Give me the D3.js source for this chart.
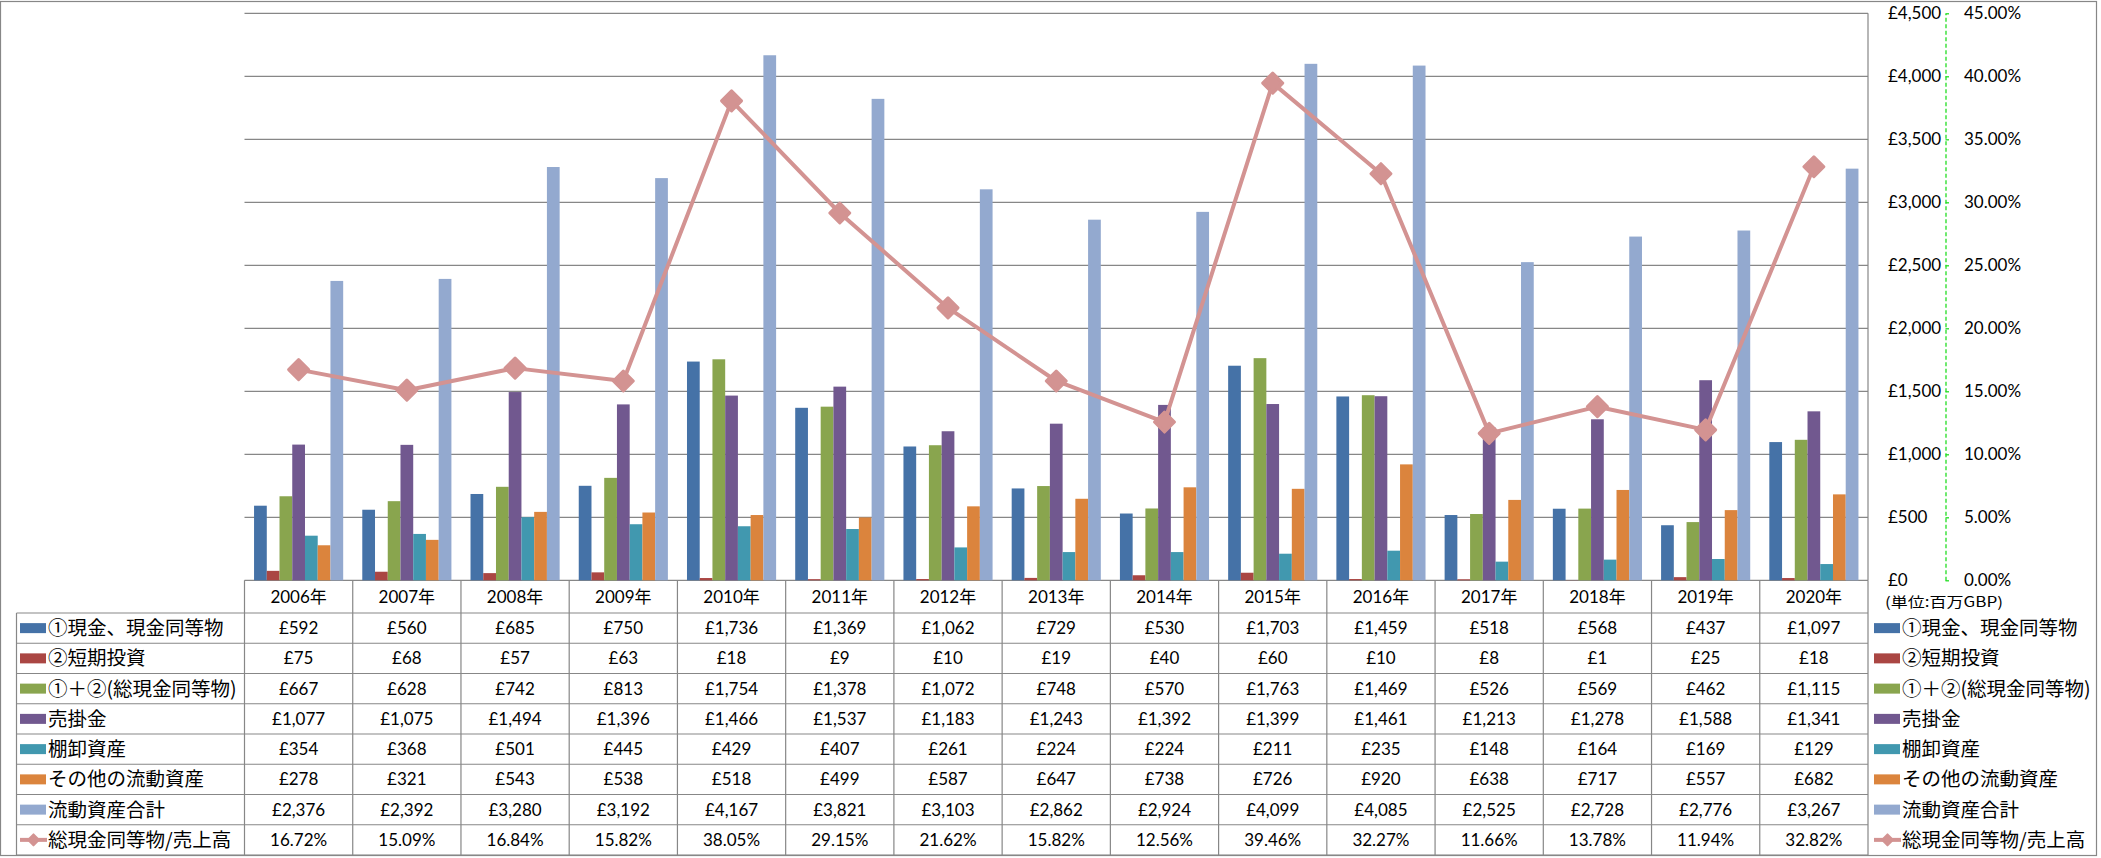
<!DOCTYPE html>
<html><head><meta charset="utf-8">
<script src="https://cdn.jsdelivr.net/npm/d3@7"></script>
<style>body{margin:0;background:#fff}svg{display:block}</style>
</head><body>
<svg id="chart" width="2101" height="858"></svg>
<script>
// ---- data ----
const years = ["2006年","2007年","2008年","2009年","2010年","2011年","2012年","2013年","2014年","2015年","2016年","2017年","2018年","2019年","2020年"];
const seriesNames = ["①現金、現金同等物","②短期投資","①＋②(総現金同等物)","売掛金","棚卸資産","その他の流動資産","流動資産合計"];
const lineName = "総現金同等物/売上高";
const cash        = [592,560,685,750,1736,1369,1062,729,530,1703,1459,518,568,437,1097];
const shortInv    = [75,68,57,63,18,9,10,19,40,60,10,8,1,25,18];
const totalCash   = [667,628,742,813,1754,1378,1072,748,570,1763,1469,526,569,462,1115];
const receivables = [1077,1075,1494,1396,1466,1537,1183,1243,1392,1399,1461,1213,1278,1588,1341];
const inventory   = [354,368,501,445,429,407,261,224,224,211,235,148,164,169,129];
const otherAssets = [278,321,543,538,518,499,587,647,738,726,920,638,717,557,682];
const currentTotal= [2376,2392,3280,3192,4167,3821,3103,2862,2924,4099,4085,2525,2728,2776,3267];
const cashRatio   = [16.72,15.09,16.84,15.82,38.05,29.15,21.62,15.82,12.56,39.46,32.27,11.66,13.78,11.94,32.82];
const valueTicks  = [0,500,1000,1500,2000,2500,3000,3500,4000,4500];
const pctTicks    = [0,5,10,15,20,25,30,35,40,45];
const unitLabel   = "(単位:百万GBP)";

const barSeries = [cash, shortInv, totalCash, receivables, inventory, otherAssets, currentTotal];
const colors = ["#4572A7","#AA4643","#89A54E","#71588F","#4198AF","#DB843D","#93A9CF"];
const lineColor = "#D39392";
const gridColor = "#878787";
const axisGreen = "#22DD22";
const numFont = "Lato, 'Noto Sans CJK JP', sans-serif";
const cjkFont = "'Noto Sans CJK JP', sans-serif";

const svg = d3.select("#chart");
const plot = {left:244.5, right:1868, top:13.3, bottom:580.3};

const x0 = d3.scaleBand().domain(years).range([plot.left, plot.right]).padding(0);
const x1 = d3.scaleBand().domain(d3.range(barSeries.length)).range([0, x0.bandwidth()]).paddingInner(0).paddingOuter(0.75);
const y  = d3.scaleLinear().domain([0,4500]).range([plot.bottom, plot.top]);
const yP = d3.scaleLinear().domain([0,45]).range([plot.bottom, plot.top]);
const rowsAll = seriesNames.concat([lineName]);
const rowY = d3.scaleBand().domain(d3.range(rowsAll.length)).range([613, 855]);
const fmtV = v => "£" + d3.format(",")(v);
const fmtP = v => v.toFixed(2) + "%";

// outer border
svg.append("rect").attr("x",0.5).attr("y",1.5).attr("width",2096).attr("height",854)
  .attr("fill","none").attr("stroke",gridColor).attr("stroke-width",1.2);

// gridlines
svg.append("g").selectAll("line").data(valueTicks).join("line")
  .attr("x1",plot.left).attr("x2",plot.right)
  .attr("y1",d=>y(d)).attr("y2",d=>y(d))
  .attr("stroke",gridColor).attr("stroke-width",1.2);
// plot right border
svg.append("line").attr("x1",plot.right).attr("x2",plot.right).attr("y1",plot.top).attr("y2",plot.bottom)
  .attr("stroke",gridColor).attr("stroke-width",1.2);

// bars
const gBars = svg.append("g");
barSeries.forEach((vals,si)=>{
  gBars.append("g").selectAll("rect").data(vals).join("rect")
    .attr("x",(d,i)=>x0(years[i]) + x1(si))
    .attr("width",x1.bandwidth())
    .attr("y",d=>y(d))
    .attr("height",d=>y(0)-y(d))
    .attr("fill",colors[si]);
});

// line
const cx = i => x0(years[i]) + x0.bandwidth()/2;
svg.append("path").datum(cashRatio)
  .attr("d", d3.line().x((d,i)=>cx(i)).y(d=>yP(d)))
  .attr("fill","none").attr("stroke",lineColor).attr("stroke-width",4).attr("stroke-linejoin","round");
const diamond = d3.symbol().type(d3.symbolSquare).size(200);
svg.append("g").selectAll("path").data(cashRatio).join("path")
  .attr("d",diamond)
  .attr("transform",(d,i)=>`translate(${cx(i)},${yP(d)}) rotate(45)`)
  .attr("fill",lineColor).attr("stroke",lineColor).attr("stroke-width",3).attr("stroke-linejoin","round");

// axes
const axV = svg.append("g").attr("transform",`translate(1888,0)`)
  .call(d3.axisRight(y).tickValues(valueTicks).tickSize(0).tickPadding(0).tickFormat(fmtV));
axV.select(".domain").remove();
axV.selectAll("text").attr("font-family",numFont).attr("font-size",17).attr("fill","#000");

const axP = svg.append("g").attr("transform",`translate(1945.5,0)`)
  .call(d3.axisRight(yP).tickValues(pctTicks).tickSize(3.5).tickSizeOuter(0).tickPadding(15).tickFormat(fmtP));
axP.select(".domain").attr("stroke",axisGreen).attr("stroke-dasharray","4,2.5").attr("stroke-width",1.3);
axP.selectAll(".tick line").attr("stroke",axisGreen).attr("stroke-width",1.3);
axP.selectAll("text").attr("font-family",numFont).attr("font-size",17).attr("fill","#000");

svg.append("text").attr("x",1885).attr("y",602).attr("dy","0.35em")
  .attr("font-family",cjkFont).attr("font-size",14).attr("textLength",118).attr("lengthAdjust","spacingAndGlyphs")
  .text(unitLabel);

// table grid
const gT = svg.append("g").attr("stroke",gridColor).attr("stroke-width",1.2);
const bounds = years.map(yr=>x0(yr)).concat([plot.right]);
gT.selectAll("line.v").data(bounds).join("line")
  .attr("x1",d=>d).attr("x2",d=>d).attr("y1",plot.bottom).attr("y2",rowY.range()[1]);
gT.append("line").attr("x1",16.5).attr("x2",16.5).attr("y1",rowY.range()[0]).attr("y2",rowY.range()[1]);
const hLines = d3.range(rowsAll.length+1).map(i=> i<rowsAll.length ? rowY(i) : rowY.range()[1]);
gT.selectAll("line.h").data(hLines).join("line")
  .attr("x1",16.5).attr("x2",plot.right).attr("y1",d=>d).attr("y2",d=>d);

// header row
svg.append("g").selectAll("text").data(years).join("text")
  .attr("x",d=>x0(d)+x0.bandwidth()/2).attr("y",(plot.bottom+rowY.range()[0])/2).attr("dy","0.35em")
  .attr("text-anchor","middle").attr("font-family",numFont).attr("font-size",17).text(d=>d);

// data cells
const tableVals = barSeries.map(s=>s.map(fmtV)).concat([cashRatio.map(fmtP)]);
tableVals.forEach((row,ri)=>{
  svg.append("g").selectAll("text").data(row).join("text")
    .attr("x",(d,i)=>x0(years[i])+x0.bandwidth()/2)
    .attr("y",rowY(ri)+rowY.bandwidth()/2).attr("dy","0.35em")
    .attr("text-anchor","middle").attr("font-family",numFont).attr("font-size",17).text(d=>d);
});

// legend keys (left in table and right side)
function legendKeys(xSw, xTxt){
  rowsAll.forEach((name,ri)=>{
    const cy = rowY(ri)+rowY.bandwidth()/2;
    if(ri < seriesNames.length){
      svg.append("rect").attr("x",xSw).attr("y",cy-5).attr("width",26).attr("height",10).attr("fill",colors[ri]);
    } else {
      svg.append("line").attr("x1",xSw).attr("x2",xSw+27).attr("y1",cy).attr("y2",cy)
        .attr("stroke",lineColor).attr("stroke-width",4);
      svg.append("path").attr("d",d3.symbol().type(d3.symbolSquare).size(60))
        .attr("transform",`translate(${xSw+13.5},${cy}) rotate(45)`)
        .attr("fill",lineColor).attr("stroke",lineColor).attr("stroke-width",2).attr("stroke-linejoin","round");
    }
    svg.append("text").attr("x",xTxt).attr("y",cy).attr("dy","0.36em")
      .attr("font-family",cjkFont).attr("font-size",19.5).text(name);
  });
}
legendKeys(20, 48);
legendKeys(1874, 1902);
</script>
</body></html>
